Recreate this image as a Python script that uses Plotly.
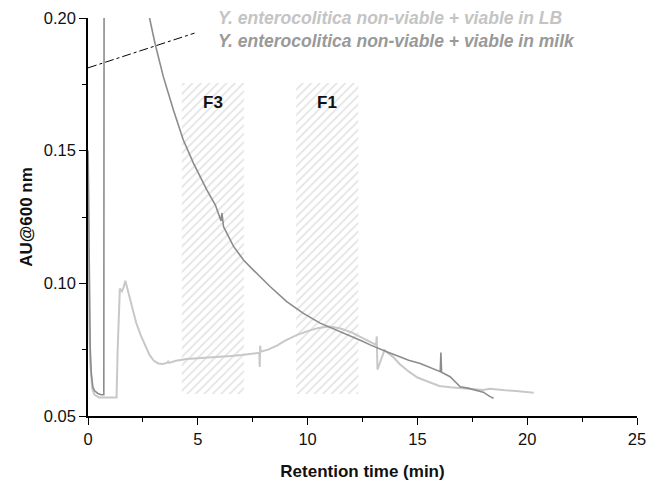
import plotly.graph_objects as go

# ---- data ----
milk_x = [0.0, 0.03, 0.06, 0.1, 0.15, 0.22, 0.3, 0.45, 0.6, 0.7, 0.72, 0.74, 1.5, 2.5,
          2.79, 3.05, 3.43, 3.89, 4.34, 4.8, 5.41, 5.8, 6.01, 6.06, 6.1, 6.14, 6.17,
          6.62, 7.08, 7.53, 8.29, 9.05, 9.81, 10.57, 11.33, 12.09, 12.5, 12.85, 13.2,
          13.6, 14.2, 14.6, 15.13, 15.6, 16.04, 16.07, 16.1, 16.49, 16.95, 17.3, 17.7,
          18.0, 18.31, 18.47]
milk_y = [0.150, 0.12, 0.095, 0.076, 0.066, 0.061, 0.0595, 0.0585, 0.058, 0.058, 0.058,
          0.30, 0.30, 0.23, 0.2005, 0.1905, 0.1779, 0.1653, 0.154, 0.1453, 0.1352, 0.1295,
          0.1251, 0.1235, 0.1265, 0.1225, 0.1214, 0.114, 0.1088, 0.105, 0.0988, 0.0931,
          0.0887, 0.085, 0.0824, 0.0799, 0.0782, 0.0768, 0.0755, 0.0742, 0.0723, 0.071,
          0.0698, 0.0683, 0.0667, 0.0739, 0.0665, 0.0648, 0.061, 0.0605, 0.0598, 0.059,
          0.0573, 0.0567]

lb_x = [0.0, 0.03, 0.06, 0.1, 0.15, 0.2, 0.3, 0.5, 0.8, 1.1, 1.3, 1.35, 1.45, 1.55,
        1.62, 1.7, 1.75, 1.85, 2.0, 2.2, 2.4, 2.6, 2.8, 3.0, 3.2, 3.4, 3.6, 3.65, 3.7,
        4.0, 4.5, 5.0, 5.5, 6.0, 6.5, 7.0, 7.5, 7.8, 7.82, 7.84, 7.86, 8.2, 8.6, 9.0,
        9.5, 10.0, 10.5, 11.0, 11.5, 12.0, 12.5, 13.0, 13.12, 13.15, 13.18, 13.5, 13.9,
        14.2, 14.6, 15.0, 15.5, 16.0, 16.5, 17.0, 17.5, 18.0, 18.3, 18.6, 19.0, 19.5, 20.3]
lb_y = [0.150, 0.11, 0.085, 0.07, 0.063, 0.06, 0.058, 0.057, 0.057, 0.057, 0.057, 0.075,
        0.098, 0.097, 0.0985, 0.101, 0.0995, 0.096, 0.091, 0.085, 0.0805, 0.0765, 0.073,
        0.0708, 0.0698, 0.0696, 0.070, 0.0705, 0.070, 0.0708, 0.0715, 0.0718, 0.072,
        0.0723, 0.0726, 0.073, 0.0735, 0.0738, 0.0685, 0.0765, 0.0742, 0.075, 0.0765,
        0.0785, 0.0805, 0.082, 0.0832, 0.0837, 0.083, 0.0815, 0.0795, 0.0772, 0.0768,
        0.080, 0.0675, 0.0748, 0.0722, 0.0695, 0.0668, 0.0645, 0.0628, 0.0613, 0.0608,
        0.0604, 0.0600, 0.0598, 0.0603, 0.0600, 0.0597, 0.0594, 0.0588]

fractions = ["F3", "F1"]
frac_start = [4.27, 9.48]
frac_end = [7.1, 12.31]
frac_bottom = 0.0583
frac_top = 0.1755
frac_label_y = 0.168

pointer_x = [0.0, 4.85]
pointer_y = [0.1812, 0.1943]

legend_labels = ["Y. enterocolitica non-viable + viable in LB",
                 "Y. enterocolitica non-viable + viable in milk"]

x_ticks = [0, 5, 10, 15, 20, 25]
y_ticks = [0.05, 0.10, 0.15, 0.20]

MILK_C = "#8c8c8c"
LB_C = "#c8c8c8"
FONT = "Liberation Sans, Arial, sans-serif"

fig = go.Figure()

# hatched fraction regions
for name, s, e in zip(fractions, frac_start, frac_end):
    fig.add_trace(go.Scatter(
        x=[s, e, e, s, s], y=[frac_bottom, frac_bottom, frac_top, frac_top, frac_bottom],
        mode="lines", fill="toself", line=dict(width=0),
        fillcolor="rgba(0,0,0,0)",
        fillpattern=dict(shape="/", fgcolor="#c8c8c8", bgcolor="white", size=6, solidity=0.3),
        hoverinfo="skip", showlegend=False))
    fig.add_annotation(x=(s + e) / 2, y=frac_label_y, text=f"<b>{name}</b>", showarrow=False,
                       font=dict(family=FONT, size=17, color="#111111"))

fig.add_trace(go.Scatter(x=lb_x, y=lb_y, mode="lines", line=dict(color=LB_C, width=2),
                         name=legend_labels[0], showlegend=False))
fig.add_trace(go.Scatter(x=milk_x, y=milk_y, mode="lines", line=dict(color=MILK_C, width=1.6),
                         name=legend_labels[1], showlegend=False))
fig.add_trace(go.Scatter(x=pointer_x, y=pointer_y, mode="lines",
                         line=dict(color="black", width=1, dash="dashdot"),
                         showlegend=False, hoverinfo="skip"))

# legend-like text
legend_x = (216 - 88) / 549
fig.add_annotation(xref="paper", yref="paper", x=legend_x, y=1.0,
                   xanchor="left", yanchor="middle", text=f"<b><i>{legend_labels[0]}</i></b>",
                   showarrow=False, font=dict(family=FONT, size=17.5, color="#c4c4c4"))
fig.add_annotation(xref="paper", yref="paper", x=legend_x, y=1 - 23 / 398, xanchor="left",
                   yanchor="middle", text=f"<b><i>{legend_labels[1]}</i></b>", showarrow=False,
                   font=dict(family=FONT, size=17.5, color="#999999"))

axis_common = dict(showline=True, linecolor="black", linewidth=1.5, ticks="outside",
                   ticklen=7, tickwidth=1.3, tickcolor="black", showgrid=False, zeroline=False,
                   automargin=False,
                   tickfont=dict(family=FONT, size=16.5, color="#111111"),
                   minor=dict(ticks="outside", ticklen=4, tickwidth=1.2, tickcolor="black"))

fig.update_xaxes(range=[0, 25], tickvals=x_ticks, ticktext=[str(v) for v in x_ticks],
                 minor_dtick=2.5, minor_tick0=0,
                 title=dict(text="<b>Retention time (min)</b>", font=dict(family=FONT, size=17, color="#111111"),
                            standoff=19),
                 **axis_common)
fig.update_yaxes(range=[0.05, 0.20], tickvals=y_ticks, ticktext=[f"{v:.2f}" for v in y_ticks],
                 minor_dtick=0.025, minor_tick0=0.05,
                 title=dict(text="<b>AU@600 nm</b>", font=dict(family=FONT, size=17, color="#111111"),
                            standoff=7),
                 **axis_common)

fig.update_layout(width=656, height=482, margin=dict(l=88, r=19, t=18, b=66),
                  plot_bgcolor="white", paper_bgcolor="white", showlegend=False)

fig.write_html("out.html")
